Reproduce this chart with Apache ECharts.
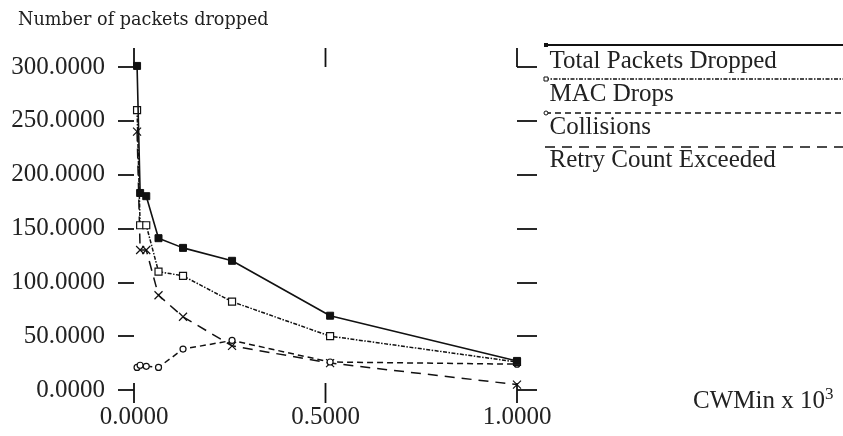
<!DOCTYPE html>
<html>
<head>
<meta charset="utf-8">
<script src="https://cdn.jsdelivr.net/npm/echarts@6/dist/echarts.min.js"></script>
<style>html,body{margin:0;padding:0;background:#fff}#c{width:843px;height:436px}</style>
</head>
<body>
<div id="c"></div>
<script>
const cwMin = [0.008, 0.016, 0.032, 0.064, 0.128, 0.256, 0.512, 1.0];
const totalDropped = [301, 183, 180, 141, 132, 120, 69, 27];
const macDrops = [260, 153, 153, 110, 106, 82, 50, 26];
const collisions = [21, 23, 22, 21, 38, 46, 26, 24];
const retryExceeded = [240, 130, 130, 88, 68, 41, 25, 5];
const seriesNames = ['Total Packets Dropped', 'MAC Drops', 'Collisions', 'Retry Count Exceeded'];
const yTicks = [0, 50, 100, 150, 200, 250, 300];
const xTicks = [0, 0.5, 1.0];

const pair = arr => cwMin.map((x, i) => [x, arr[i]]);
const serif = 'Liberation Serif';
const ink = '#111';

const chart = echarts.init(document.getElementById('c'), null, {renderer: 'canvas'});
const tickStyle = {color: ink, width: 1.8};
const hiddenLine = {show: false, onZero: false};
const yMin = yTicks[0], yMax = yTicks[yTicks.length - 1];

chart.setOption({
  animation: false,
  backgroundColor: '#fff',
  title: {
    text: 'Number of packets dropped',
    left: 13, top: 6,
    textStyle: {fontFamily: 'DejaVu Serif', fontSize: 17.6, fontWeight: 'normal', color: '#222'}
  },
  grid: {left: 134, right: 326, top: 67, bottom: 46},
  legend: {
    orient: 'vertical', left: 537, top: 44,
    icon: 'rect', itemWidth: 0, itemHeight: 0, itemGap: 8,
    selectedMode: false,
    data: seriesNames,
    textStyle: {fontFamily: serif, fontSize: 25, color: '#222'}
  },
  xAxis: [{
    type: 'value', min: xTicks[0], max: xTicks[xTicks.length - 1], interval: 0.5, position: 'bottom',
    axisLine: hiddenLine,
    axisTick: {show: false},
    splitLine: {show: false},
    axisLabel: {margin: 15, formatter: v => v.toFixed(4), fontFamily: serif, fontSize: 25, color: '#222'},
    name: 'CWMin x 10{sup|3}', nameLocation: 'end', nameGap: 176,
    nameTextStyle: {
      fontFamily: serif, fontSize: 25, color: '#222', align: 'left', verticalAlign: 'middle',
      padding: [22, 0, 0, 0],
      rich: {sup: {fontFamily: serif, fontSize: 17, color: '#222', verticalAlign: 'top', padding: [0, 0, 12, 0]}}
    }
  }],
  yAxis: [{
    type: 'value', min: yMin, max: yMax, interval: 50, position: 'left',
    axisLine: hiddenLine,
    axisTick: {show: true, length: 16, lineStyle: tickStyle},
    splitLine: {show: false},
    axisLabel: {margin: 29, formatter: v => v.toFixed(4), fontFamily: serif, fontSize: 25, color: '#222'}
  }, {
    type: 'value', min: yMin, max: yMax, interval: 50, position: 'right',
    axisLine: hiddenLine,
    axisTick: {show: true, length: 20, lineStyle: tickStyle},
    splitLine: {show: false},
    axisLabel: {show: false}
  }],
  series: [
    {
      name: seriesNames[0], type: 'line', data: pair(totalDropped), z: 5, clip: false,
      symbol: 'rect', symbolSize: 7,
      lineStyle: {color: ink, width: 1.6, type: 'solid'},
      itemStyle: {color: ink, borderColor: ink, borderWidth: 1}
    },
    {
      name: seriesNames[1], type: 'line', data: pair(macDrops), z: 4, clip: false,
      symbol: 'rect', symbolSize: 7,
      lineStyle: {color: ink, width: 1.5, type: [4, 1.5, 1.5, 1.5]},
      itemStyle: {color: '#fff', borderColor: ink, borderWidth: 1.2}
    },
    {
      name: seriesNames[2], type: 'line', data: pair(collisions), z: 3, clip: false,
      symbol: 'circle', symbolSize: 6,
      lineStyle: {color: ink, width: 1.5, type: [6, 4]},
      itemStyle: {color: '#fff', borderColor: ink, borderWidth: 1.2}
    },
    {
      name: seriesNames[3], type: 'line', data: pair(retryExceeded), z: 2, clip: false,
      symbol: 'path://M0,0L10,10M10,0L0,10', symbolSize: 8,
      lineStyle: {color: ink, width: 1.5, type: [10, 7]},
      itemStyle: {color: 'none', borderColor: ink, borderWidth: 1.2}
    },
    {
      name: 'x ticks', type: 'custom', silent: true, clip: false, z: 1,
      data: xTicks.map(v => [v, yMin]),
      encode: {x: 0, y: 1},
      renderItem: (params, api) => {
        const x = api.value(0);
        const top = api.coord([x, yMax]);
        const bot = api.coord([x, yMin]);
        const st = {stroke: ink, lineWidth: 1.8};
        return {
          type: 'group',
          children: [
            {type: 'line', shape: {x1: top[0], y1: top[1] - 19, x2: top[0], y2: top[1]}, style: st},
            {type: 'line', shape: {x1: bot[0], y1: bot[1] - 7, x2: bot[0], y2: bot[1] + 13}, style: st}
          ]
        };
      }
    }
  ],
  graphic: [
    {type: 'line', shape: {x1: 545, y1: 45, x2: 843, y2: 45}, style: {stroke: ink, lineWidth: 2}},
    {type: 'line', shape: {x1: 545, y1: 79, x2: 843, y2: 79}, style: {stroke: ink, lineWidth: 1.5, lineDash: [4, 1.5, 1.5, 1.5]}},
    {type: 'line', shape: {x1: 545, y1: 113, x2: 843, y2: 113}, style: {stroke: ink, lineWidth: 1.5, lineDash: [6, 4]}},
    {type: 'line', shape: {x1: 545, y1: 147, x2: 843, y2: 147}, style: {stroke: ink, lineWidth: 1.5, lineDash: [10, 7]}},
    {type: 'rect', shape: {x: 544, y: 43, width: 4, height: 4}, style: {fill: ink}},
    {type: 'rect', shape: {x: 544, y: 77, width: 4, height: 4}, style: {fill: '#fff', stroke: ink, lineWidth: 1}},
    {type: 'circle', shape: {cx: 546, cy: 113, r: 2}, style: {fill: '#fff', stroke: ink, lineWidth: 1}}
  ]
});
</script>
</body>
</html>
